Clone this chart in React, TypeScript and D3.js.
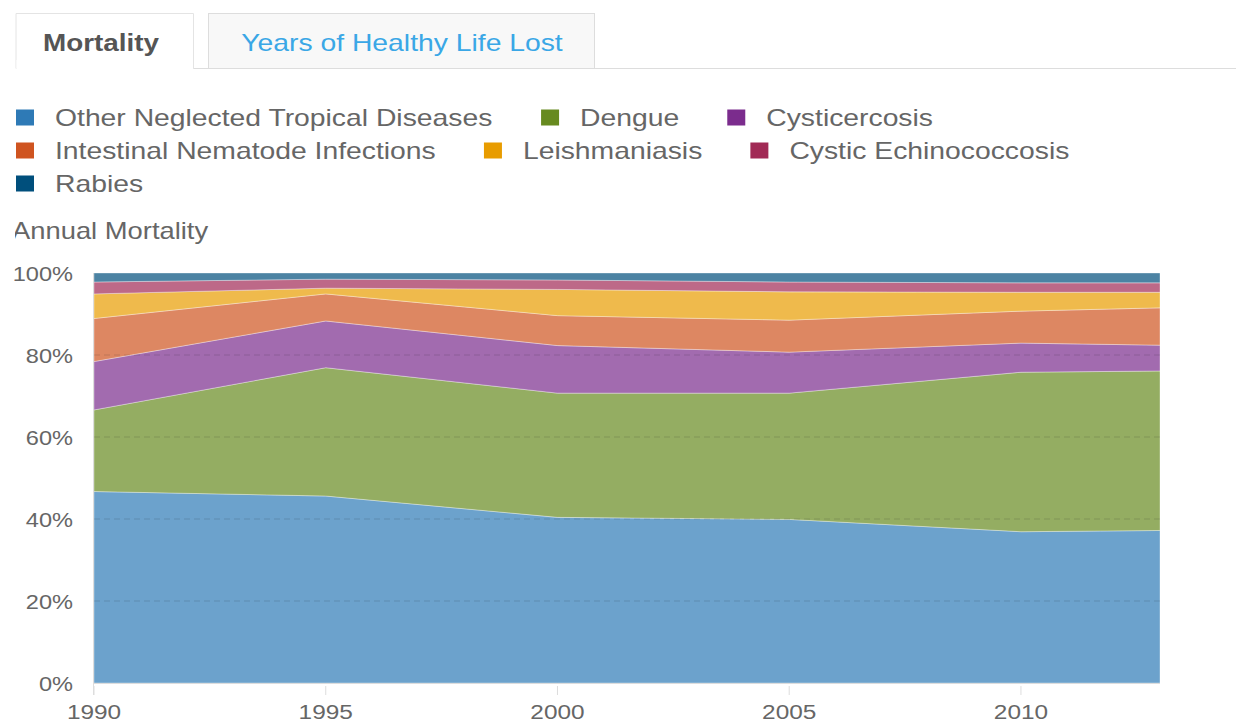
import React, { useMemo } from "react";
import * as d3 from "d3";

const years = [1990, 1995, 2000, 2005, 2010, 2013];
const xTicks = [1990, 1995, 2000, 2005, 2010];
const yTicks = [0, 0.2, 0.4, 0.6, 0.8, 1];

const otherNTD = [46.7, 45.6, 40.4, 39.9, 36.9, 37.2];
const dengue = [19.9, 31.3, 30.3, 30.8, 38.9, 38.9];
const cysticercosis = [11.8, 11.4, 11.6, 10.0, 7.1, 6.3];
const nematode = [10.5, 6.6, 7.3, 7.8, 7.8, 9.1];
const leishmaniasis = [6.0, 1.4, 6.4, 6.9, 4.6, 3.8];
const echinococcosis = [2.9, 2.2, 2.3, 2.4, 2.3, 2.3];
const rabies = [2.2, 1.5, 1.7, 2.2, 2.4, 2.4];

const series = [
  { key: "Other Neglected Tropical Diseases", values: otherNTD, color: "#2e7ab6" },
  { key: "Dengue", values: dengue, color: "#678a1f" },
  { key: "Cysticercosis", values: cysticercosis, color: "#7b2c8d" },
  { key: "Intestinal Nematode Infections", values: nematode, color: "#cf5420" },
  { key: "Leishmaniasis", values: leishmaniasis, color: "#e89c00" },
  { key: "Cystic Echinococcosis", values: echinococcosis, color: "#a12a55" },
  { key: "Rabies", values: rabies, color: "#004f7c" },
];

const tabs = ["Mortality", "Years of Healthy Life Lost"];

const W = 1236;
const H = 723;
const SX = 1.19; // the source is a bit wider than tall
const FONT = "'Liberation Sans', Arial, sans-serif";
const plot = { left: 94, right: 1160, top: 273, bottom: 683 };

const T = ({ x, y, size, anchor = "start", weight = "normal", fill = "#666", sx = SX, children }: any) => (
  <text
    transform={`translate(${x},${y}) scale(${sx},1)`}
    fontSize={size}
    fontFamily={FONT}
    fontWeight={weight}
    textAnchor={anchor}
    fill={fill}
  >
    {children}
  </text>
);

const measure = (txt: string, size: number) => {
  const ctx = document.createElement("canvas").getContext("2d");
  if (!ctx) return txt.length * size * 0.5 * SX;
  ctx.font = `${size}px ${FONT}`;
  return ctx.measureText(txt).width * SX;
};

const App = () => {
  const x = d3.scaleLinear().domain([1990, 2013]).range([plot.left, plot.right]);
  const y = d3.scaleLinear().domain([0, 1]).range([plot.bottom, plot.top]);

  const table = years.map((yr, i) => {
    const row: any = { year: yr };
    series.forEach((s) => (row[s.key] = s.values[i]));
    return row;
  });

  const stacked = d3
    .stack()
    .keys(series.map((s) => s.key))
    .offset(d3.stackOffsetExpand)(table);

  const area = d3
    .area<any>()
    .x((d) => x(d.data.year))
    .y0((d) => y(d[0]))
    .y1((d) => y(d[1]));

  // legend flows left to right and wraps
  const legendItems = useMemo(() => {
    const size = 23.8;
    let cx = 16;
    let row = 0;
    return series.map((s) => {
      const w = 39 + measure(s.key, size);
      if (cx + w > 1200) {
        cx = 16;
        row += 1;
      }
      const item = { ...s, x: cx, y: 117 + row * 33 };
      cx += w + 48;
      return item;
    });
  }, []);

  return (
    <svg width={W} height={H} style={{ position: "absolute", left: 0, top: 0, background: "#fff" }}>
      <defs>
        <clipPath id="titleClip">
          <rect x={15} y={200} width={400} height={60} />
        </clipPath>
      </defs>
      {/* tabs */}
      <line x1={16} x2={W} y1={68.5} y2={68.5} stroke="#ddd" />
      <path d="M16,68.5 V13.5 H193.5 V68.5" fill="#fff" stroke="#e4e4e4" />
      <rect x={16.5} y={60} width={176.5} height={9} fill="#fff" />
      <rect x={208.5} y={13.5} width={386} height={55} fill="#f8f8f8" stroke="#ddd" />
      <T x={101} y={51} size={23.8} anchor="middle" weight="bold" fill="#555" sx={1.17}>
        {tabs[0]}
      </T>
      <T x={402} y={51} size={23.8} anchor="middle" fill="#3aa7e6">
        {tabs[1]}
      </T>

      {/* legend */}
      {legendItems.map((d) => (
        <g key={d.key}>
          <rect x={d.x} y={d.y - 7.5} width={18} height={16} fill={d.color} />
          <T x={d.x + 39} y={d.y + 8.5} size={23.8} fill="#666">
            {d.key}
          </T>
        </g>
      ))}

      <g clipPath="url(#titleClip)">
        <T x={12} y={239} size={23} fill="#666">
          Annual Mortality
        </T>
      </g>

      {/* grid */}
      {yTicks.slice(1, -1).map((t) => (
        <line
          key={t}
          x1={plot.left}
          x2={plot.right}
          y1={y(t)}
          y2={y(t)}
          stroke="#888"
          strokeOpacity={0.45}
          strokeDasharray="6,4"
        />
      ))}

      {/* areas */}
      {stacked.map((layer, i) => (
        <path
          key={layer.key}
          d={area(layer) || ""}
          fill={series[i].color}
          fillOpacity={0.7}
          stroke="#fff"
          strokeOpacity={0.35}
          strokeWidth={1}
          strokeLinejoin="round"
        />
      ))}
      {yTicks.slice(1, -1).map((t) => (
        <line
          key={"g" + t}
          x1={plot.left}
          x2={plot.right}
          y1={y(t)}
          y2={y(t)}
          stroke="#777"
          strokeOpacity={0.15}
          strokeDasharray="6,4"
        />
      ))}

      {/* axes */}
      <line x1={plot.left - 0.5} x2={plot.left - 0.5} y1={plot.top} y2={plot.bottom + 12} stroke="#ddd" />
      <line x1={plot.left} x2={plot.right} y1={plot.bottom + 0.5} y2={plot.bottom + 0.5} stroke="#ddd" />
      {yTicks.map((t) => (
        <T key={t} x={73} y={y(t) + 7.5} size={20.5} anchor="end" fill="#666" sx={1.15}>
          {d3.format(".0%")(t)}
        </T>
      ))}
      {xTicks.map((t) => (
        <g key={t}>
          <line x1={x(t)} x2={x(t)} y1={plot.bottom + 3} y2={plot.bottom + 12} stroke="#ddd" />
          <T x={x(t)} y={719} size={20.5} anchor="middle" fill="#666">
            {t}
          </T>
        </g>
      ))}
    </svg>
  );
};

export default App;
